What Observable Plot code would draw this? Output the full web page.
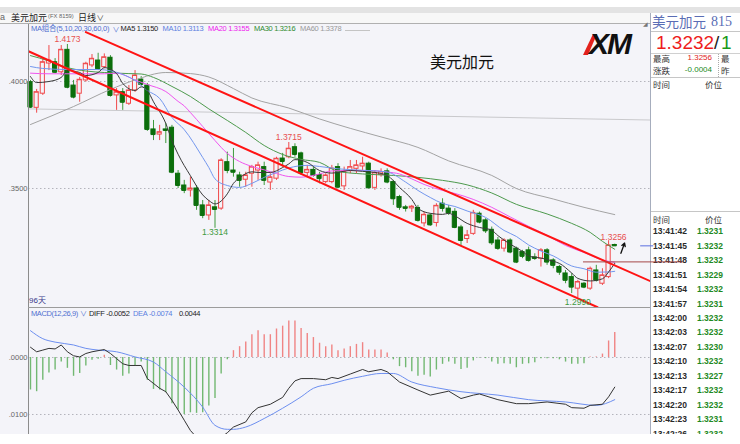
<!DOCTYPE html>
<html><head><meta charset="utf-8">
<script src="https://cdn.jsdelivr.net/npm/d3@7"></script>
<script src="https://cdn.jsdelivr.net/npm/@observablehq/plot@0.6"></script>
<style>
html,body{margin:0;padding:0;background:#fff;}
#root{position:relative;width:740px;height:444px;overflow:hidden;background:#fff;font-family:"Liberation Sans","Noto Sans CJK SC",sans-serif;}
.a{position:absolute;white-space:nowrap;line-height:1;}
.bx{position:absolute;}
#root svg{position:absolute;left:0;}
</style></head><body><div id="root"></div>
<script>
// ---------- DATA ----------
const open  = [1.3997,1.3877,1.3943,1.4084,1.4090,1.4043,1.4148,1.3981,1.3943,1.4005,1.4075,1.4098,1.4067,1.4111,1.3935,1.3950,1.3896,1.3958,1.4009,1.3981,1.3776,1.3752,1.3776,1.3784,1.3569,1.3514,1.3491,1.3500,1.3421,1.3374,1.3412,1.3406,1.3623,1.3584,1.3561,1.3541,1.3569,1.3584,1.3600,1.3528,1.3546,1.3640,1.3646,1.3693,1.3664,1.3573,1.3587,1.3563,1.3530,1.3530,1.3600,1.3510,1.3584,1.3592,1.3603,1.3616,1.3503,1.3563,1.3580,1.3530,1.3460,1.3412,1.3407,1.3409,1.3337,1.3374,1.3339,1.3429,1.3406,1.3391,1.3318,1.3264,1.3288,1.3382,1.3351,1.3307,1.3257,1.3219,1.3257,1.3219,1.3203,1.3211,1.3178,1.3172,1.3211,1.3164,1.3133,1.3103,1.3086,1.3032,1.3055,1.3032,1.3117,1.3055,1.3086,1.3236];
const high  = [1.4005,1.3963,1.4106,1.4168,1.4107,1.4168,1.4173,1.4005,1.4019,1.4090,1.4126,1.4132,1.4129,1.4121,1.3967,1.3967,1.3981,1.4051,1.4023,1.3991,1.3818,1.3795,1.3804,1.3795,1.3584,1.3538,1.3553,1.3514,1.3444,1.3444,1.3444,1.3639,1.3670,1.3687,1.3576,1.3576,1.3608,1.3623,1.3623,1.3569,1.3646,1.3664,1.3715,1.3709,1.3670,1.3608,1.3600,1.3576,1.3569,1.3608,1.3616,1.3600,1.3631,1.3631,1.3646,1.3623,1.3584,1.3592,1.3592,1.3538,1.3468,1.3421,1.3421,1.3421,1.3390,1.3382,1.3429,1.3452,1.3421,1.3406,1.3328,1.3304,1.3398,1.3390,1.3359,1.3320,1.3271,1.3265,1.3265,1.3226,1.3211,1.3226,1.3195,1.3219,1.3219,1.3172,1.3141,1.3117,1.3102,1.3071,1.3061,1.3133,1.3141,1.3125,1.3256,1.3240];
const low   = [1.3874,1.3852,1.3935,1.4051,1.4036,1.4028,1.3966,1.3919,1.3903,1.3997,1.4065,1.4051,1.4059,1.3927,1.3865,1.3865,1.3888,1.3949,1.3977,1.3767,1.3724,1.3724,1.3710,1.3569,1.3500,1.3476,1.3460,1.3398,1.3359,1.3351,1.3314,1.3398,1.3569,1.3553,1.3506,1.3506,1.3506,1.3538,1.3514,1.3491,1.3538,1.3600,1.3639,1.3646,1.3561,1.3550,1.3553,1.3522,1.3522,1.3522,1.3499,1.3491,1.3569,1.3569,1.3584,1.3499,1.3491,1.3553,1.3522,1.3421,1.3398,1.3390,1.3388,1.3343,1.3320,1.3323,1.3320,1.3390,1.3374,1.3312,1.3234,1.3243,1.3281,1.3335,1.3290,1.3234,1.3211,1.3203,1.3195,1.3149,1.3172,1.3156,1.3164,1.3133,1.3141,1.3125,1.3094,1.3055,1.3009,1.2990,1.3032,1.3024,1.3063,1.3047,1.3079,1.3229];
const close = [1.3880,1.3950,1.4090,1.4098,1.4043,1.4148,1.3973,1.3927,1.4008,1.4083,1.4106,1.4059,1.4113,1.3935,1.3950,1.3903,1.3958,1.4028,1.3986,1.3776,1.3752,1.3763,1.3771,1.3576,1.3514,1.3491,1.3500,1.3421,1.3374,1.3421,1.3402,1.3631,1.3584,1.3576,1.3538,1.3561,1.3600,1.3608,1.3538,1.3552,1.3639,1.3626,1.3686,1.3659,1.3573,1.3587,1.3561,1.3546,1.3561,1.3593,1.3506,1.3580,1.3600,1.3608,1.3616,1.3503,1.3573,1.3577,1.3530,1.3452,1.3412,1.3407,1.3415,1.3351,1.3377,1.3330,1.3419,1.3407,1.3386,1.3318,1.3257,1.3281,1.3386,1.3343,1.3302,1.3246,1.3220,1.3257,1.3203,1.3156,1.3183,1.3164,1.3173,1.3211,1.3156,1.3141,1.3109,1.3071,1.3039,1.3063,1.3039,1.3125,1.3071,1.3094,1.3234,1.3232];

const ma5Idx = [0,1,3,5,6,8,9,11,12,14,15,17,18,19,20,22,23,24,26,28,29,30,32,33,34,36,37,39,41,42,43,45,47,49,52,54,56,58,60,62,63,65,67,68,69,71,73,75,76,78,80,81,83,85,86,88,89,91,93,94,95];
const ma5Val = [1.4023,1.3995,1.4000,1.4019,1.4051,1.4042,1.4028,1.4042,1.4065,1.4037,1.3991,1.3958,1.3975,1.3958,1.3905,1.3804,1.3724,1.3660,1.3560,1.3470,1.3444,1.3428,1.3475,1.3524,1.3550,1.3578,1.3575,1.3575,1.3598,1.3615,1.3635,1.3622,1.3584,1.3572,1.3584,1.3580,1.3575,1.3561,1.3505,1.3449,1.3407,1.3384,1.3379,1.3384,1.3372,1.3337,1.3318,1.3305,1.3280,1.3240,1.3206,1.3185,1.3175,1.3160,1.3150,1.3105,1.3080,1.3068,1.3078,1.3110,1.3150];
const ma10Idx = [0,2,6,11,15,17,19,21,23,25,28,29,30,32,34,36,38,40,42,45,47,50,52,55,58,61,63,65,67,69,71,74,77,79,81,83,85,88,90,92,94,95];
const ma10Val = [1.4070,1.4061,1.4056,1.4056,1.4033,1.4005,1.3958,1.3921,1.3832,1.3775,1.3645,1.3598,1.3545,1.3514,1.3505,1.3524,1.3552,1.3575,1.3596,1.3608,1.3603,1.3592,1.3588,1.3584,1.3577,1.3530,1.3491,1.3458,1.3430,1.3416,1.3395,1.3365,1.3304,1.3276,1.3236,1.3208,1.3185,1.3138,1.3125,1.3109,1.3110,1.3113];
const ma20Idx = [0,3,9,12,14,17,19,22,24,25,26,28,30,32,34,36,38,40,42,44,47,49,52,55,58,60,62,64,67,69,72,75,78,81,84,87,90,93,95];
const ma20Val = [1.4039,1.4036,1.4036,1.4036,1.4039,1.4007,1.3986,1.3953,1.3907,1.3886,1.3855,1.3790,1.3724,1.3664,1.3626,1.3603,1.3587,1.3570,1.3556,1.3553,1.3568,1.3582,1.3584,1.3584,1.3577,1.3568,1.3545,1.3519,1.3491,1.3477,1.3449,1.3412,1.3367,1.3323,1.3281,1.3234,1.3201,1.3166,1.3155];
const ma30Idx = [0,3,6,9,12,16,18,20,23,26,29,32,35,38,41,44,47,50,54,59,63,67,71,75,79,84,88,91,93,95];
const ma30Val = [1.4121,1.4096,1.4065,1.4049,1.4042,1.4037,1.4035,1.4019,1.3977,1.3930,1.3872,1.3818,1.3762,1.3701,1.3659,1.3636,1.3622,1.3580,1.3568,1.3561,1.3552,1.3538,1.3517,1.3479,1.3426,1.3381,1.3337,1.3295,1.3253,1.3216];
const ma60Idx = [0,7,13,17,22,26,29,33,36,42,47,52,57,63,68,75,79,85,90,95];
const ma60Val = [1.3799,1.3883,1.3963,1.4007,1.4042,1.4037,1.4021,1.3967,1.3923,1.3876,1.3825,1.3781,1.3741,1.3692,1.3629,1.3561,1.3500,1.3451,1.3412,1.3378];

// drawn lines: [index, price] end points
const channelUpper = [[9, 1.4231], [100.8, 1.3067]];
const channelLower = [[-0.33, 1.41415], [92.2, 1.2945]];
const refLine      = [[-0.33, 1.3872], [100.8, 1.3820]];
const markLine     = [[89.9, 1.3157], [106.0, 1.3157]];
const lastPriceLine= [[99.2, 1.3232], [101.2, 1.3232]];
const arrowPts     = [[96.0, 1.3197], [96.6, 1.3245]];

const highLabelIdx = [6, 42];
const highLabelVal = [1.4173, 1.3715];
const lastHighIdx = 94, lastHighVal = 1.3256;
const lowLabelIdx = [30, 89];
const lowLabelVal = [1.3314, 1.2990];

const priceTicks = [1.35, 1.40];
const priceTickLabels = [".3500", ".4000"];
const macdTicks = [0, -0.01];
const macdTickLabels = [".0000", ".0100"];

const macdHist = [-0.0057,-0.0060,-0.0040,-0.0027,-0.0022,-0.0008,-0.0019,-0.0033,-0.0028,-0.0015,
-0.0005,-0.0003,0.0004,-0.0014,-0.0022,-0.0033,-0.0029,-0.0014,-0.0008,-0.0040,
-0.0056,-0.0057,-0.0062,-0.0081,-0.0092,-0.0100,-0.0097,-0.0098,-0.0097,-0.0085,
-0.0072,-0.0029,-0.0004,0.0012,0.0019,0.0027,0.0040,0.0047,0.0040,0.0040,
0.0050,0.0055,0.0064,0.0064,0.0051,0.0042,0.0035,0.0025,0.0019,0.0022,
0.0012,0.0015,0.0019,0.0023,0.0026,0.0013,0.0013,0.0013,0.0008,-0.0004,
-0.0016,-0.0018,-0.0025,-0.0033,-0.0031,-0.0034,-0.0022,-0.0012,-0.0008,-0.0012,
-0.0021,-0.0019,-0.0006,-0.0001,-0.0002,-0.0008,-0.0012,-0.0011,-0.0012,-0.0018,
-0.0012,-0.0011,-0.0009,-0.0002,-0.0002,-0.0002,-0.0004,-0.0008,-0.0012,-0.0012,
-0.0011,0.0001,0.0001,0.0006,0.0029,0.0044];
const diffIdx = [0,1,2,3,4,5,6,7,8,9,10,12,13,14,15,16,17,18,19,21,22,23,24,25,26,27,28,29,30,31,32,33,35,36,37,39,41,42,43,44,46,48,49,50,52,54,55,57,58,60,63,65,68,70,72,73,76,79,81,84,87,88,90,91,93,94,95];
const diffVal = [0.0018,0.0010,0.0013,0.0016,0.0015,0.0022,0.0010,0.0003,0.0001,0.0007,0.0010,0.0014,0.0007,-0.0002,-0.0011,-0.0014,-0.0014,-0.0014,-0.0037,-0.0054,-0.0060,-0.0075,-0.0092,-0.0110,-0.0128,-0.0140,-0.0145,-0.0147,-0.0145,-0.0140,-0.0132,-0.0122,-0.0113,-0.0097,-0.0088,-0.0082,-0.0070,-0.0054,-0.0041,-0.0037,-0.0037,-0.0039,-0.0035,-0.0037,-0.0029,-0.0021,-0.0025,-0.0021,-0.0025,-0.0043,-0.0057,-0.0066,-0.0059,-0.0072,-0.0066,-0.0064,-0.0074,-0.0081,-0.0081,-0.0078,-0.0082,-0.0088,-0.0089,-0.0084,-0.0082,-0.0069,-0.0052];
const deaIdx = [0,2,4,7,9,11,14,17,20,22,25,28,30,32,33,35,38,41,44,46,49,51,54,57,59,62,66,70,76,81,87,92,95];
const deaVal = [0.0047,0.0033,0.0027,0.0022,0.0016,0.0013,0.0010,0.0001,-0.0008,-0.0025,-0.0052,-0.0087,-0.0119,-0.0126,-0.0126,-0.0122,-0.0107,-0.0089,-0.0069,-0.0054,-0.0046,-0.0040,-0.0033,-0.0028,-0.0028,-0.0043,-0.0053,-0.0060,-0.0066,-0.0074,-0.0078,-0.0084,-0.0074];

const tickTimes  = ["13:41:42","13:41:45","13:41:48","13:41:51","13:41:54","13:41:57","13:42:00","13:42:03","13:42:07","13:42:10","13:42:13","13:42:17","13:42:20","13:42:23","13:42:26"];
const tickPrices = ["1.3231","1.3232","1.3232","1.3229","1.3232","1.3231","1.3232","1.3232","1.3230","1.3232","1.3227","1.3232","1.3232","1.3231","1.3232"];

// ---------- PAGE ----------
const root = document.getElementById("root");
function bx(x,y,w,h,bg,z=0,extra=""){const e=document.createElement("div");e.className="bx";e.style.cssText=`left:${x}px;top:${y}px;width:${w}px;height:${h}px;background:${bg};z-index:${z};${extra}`;root.appendChild(e);return e;}
function tx(x,yc,s,o={}){const e=document.createElement("div");e.className="a";const sz=o.size||8;e.textContent=s;
  e.style.fontSize=sz+"px";e.style.color=o.color||"#222";if(o.weight)e.style.fontWeight=o.weight;if(o.family)e.style.fontFamily=o.family;
  if(o.ls!=null)e.style.letterSpacing=o.ls+"px";e.style.top=(yc-sz*0.52)+"px";
  if(o.anchor==="end")e.style.right=(740-x)+"px";else e.style.left=x+"px";e.style.zIndex=o.z??5;root.appendChild(e);return e;}
const CJK='"Noto Sans CJK SC",sans-serif';

// backgrounds
bx(0,7,740,6,"#e3e3e3");
bx(0,13,650,10,"#f7f7f7");
bx(0,23,650,1,"#b0b0b0");
const BG="#f4f4f9";
bx(0,24,650,410,BG);
bx(650,13,1,421,"#a6adbd",1);
// right panel lines
bx(651,31,89,1,"#c6c6c6",1); bx(651,53,89,1,"#d0d0d0",1); bx(651,77,89,1,"#c6c6c6",1); bx(651,211,89,1,"#c6c6c6",1);
bx(718,54,0,23,"transparent",1,"border-left:1px dotted #aaa;");

// title bar
tx(0,17.5,"a",{size:9,color:"#666"});
tx(11,17.5,"美元加元",{size:9,family:CJK,color:"#222"});
tx(48,17.5,"(FX 8159)",{size:5.8,color:"#666"});
tx(78,17.5,"日线",{size:9,family:CJK,color:"#222"});
tx(96.5,18,"∨",{size:7.5,family:CJK,color:"#333"});

// MA header
tx(31,29.3,"MA组合(5,10,20,30,60,0)",{size:7.5,color:"#4f6fd0",ls:-0.25});
tx(112.5,29.5,"∨",{size:7,color:"#4f6fd0",family:CJK});
tx(120.5,29.3,"MA5 1.3150",{size:7.5,color:"#222",ls:-0.3});
tx(162.5,29.3,"MA10 1.3113",{size:7.5,color:"#5b7fe0",ls:-0.3});
tx(208,29.3,"MA20 1.3155",{size:7.5,color:"#ee22ee",ls:-0.3});
tx(254,29.3,"MA30 1.3216",{size:7.5,color:"#2e8b2e",ls:-0.3});
tx(300,29.3,"MA60 1.3378",{size:7.5,color:"#999",ls:-0.3});
bx(345,30,25,1,"#c4c4c4",5);

// MACD header
tx(31,313.5,"MACD(12,26,9)",{size:7.5,color:"#5070d0",ls:-0.4});
tx(80,313.8,"∨",{size:7,color:"#5070d0",family:CJK});
tx(89,313.5,"DIFF -0.0052",{size:7.5,color:"#222",ls:-0.3});
tx(133,313.5,"DEA -0.0074",{size:7.5,color:"#5b7fe0",ls:-0.3});
tx(179,313.5,"0.0044",{size:7.5,color:"#222",ls:-0.3});
tx(29,301.5,"96天",{size:8,color:"#3a3a8a",family:'"Liberation Sans","Noto Sans CJK SC"'});

// big label and logo
tx(430,61,"美元加元",{size:16,family:CJK,color:"#111"});
const logo=document.createElement("div");logo.style.cssText="position:absolute;left:581px;top:28px;z-index:5;";
logo.innerHTML='<svg width="80" height="32" style="position:static;overflow:visible"><polygon points="2,27 12,6 16,6 7,27" fill="#e3211c"/><text x="8" y="26" font-family="Liberation Sans" font-weight="700" font-style="italic" font-size="30" fill="#111" letter-spacing="-2">XM</text></svg>';
root.appendChild(logo);

// right panel text
tx(643,24.5,"◢",{size:6,color:"#777",family:"DejaVu Sans"});
tx(652,22,"美元加元",{size:13.5,family:CJK,color:"#5a6db5",z:1});
tx(711,22,"815",{size:14,color:"#5a6db5",family:"Liberation Serif",z:1});
tx(656,43,"1.3232",{size:19,color:"#ee1c1c",z:1});
tx(714,43,"/",{size:19,color:"#222",z:1});
tx(721,43,"1",{size:19,color:"#1a9a1a",z:1});
tx(653,58.5,"最高",{size:8.5,family:CJK,color:"#333",z:1});
tx(712,58.5,"1.3256",{size:8,color:"#e01c1c",anchor:"end",z:1});
tx(721,58.5,"最",{size:8.5,family:CJK,color:"#333",z:1});
tx(653,70.5,"涨跌",{size:8.5,family:CJK,color:"#333",z:1});
tx(712,70.5,"-0.0004",{size:8,color:"#1a8a1a",anchor:"end",z:1});
tx(721,70.5,"昨",{size:8.5,family:CJK,color:"#333",z:1});
tx(653,84.5,"时间",{size:8.5,family:CJK,color:"#333",z:1});
tx(722,84.5,"价位",{size:8.5,family:CJK,color:"#333",anchor:"end",z:1});
tx(653,219,"时间",{size:8.5,family:CJK,color:"#333",z:1});
tx(722,219,"价位",{size:8.5,family:CJK,color:"#333",anchor:"end",z:1});
const clipBox=bx(651,224,89,210,"transparent",1,"overflow:hidden;");
tickTimes.forEach((t,k)=>{
  const yc=231.7+14.45*k-224;
  const a=document.createElement("div");a.className="a";a.textContent=t;a.style.cssText+=`left:2px;top:${yc-4.4}px;font-size:8.5px;font-weight:bold;color:#2a2a2a;`;clipBox.appendChild(a);
  const b=document.createElement("div");b.className="a";b.textContent=tickPrices[k];b.style.cssText+=`right:17px;top:${yc-4.4}px;font-size:8.5px;font-weight:bold;color:#1f8a1f;`;clipBox.appendChild(b);
});

// ---------- PLOTS ----------
const XD=[-0.3252,100.813];
const RED="#f0484a", GREEN="#0b6e0b", GWICK="#3d9a3d";
const candles=open.map((o,i)=>({i,o,h:high[i],l:low[i],c:close[i],up:close[i]>=o}));
const pts=(I,V)=>I.map((i,k)=>({i,v:V[k]}));
const seg=a=>a.map(([i,v])=>({i,v}));
const fmt=d3.format(".4f");

const main=Plot.plot({
  width:740,height:284,marginLeft:28,marginRight:90,marginTop:0,marginBottom:0,
  x:{domain:XD,axis:null},y:{domain:[1.294393,1.427103],axis:null},
  style:{background:"transparent",overflow:"hidden",fontFamily:"Liberation Sans, sans-serif"},
  marks:[
    Plot.ruleY(priceTicks,{y:d=>d,stroke:"#b4b4bc",strokeDasharray:"1.5,2.5"}),
    Plot.line(seg(refLine),{x:"i",y:"v",stroke:"#c9c9cc",strokeWidth:1,clip:true}),
    Plot.ruleX(candles,{x:"i",y1:"l",y2:"h",stroke:d=>d.up?RED:GWICK,strokeWidth:1}),
    Plot.rect(candles,{x1:d=>d.i-0.34,x2:d=>d.i+0.34,y1:"o",y2:"c",fill:d=>d.up?BG:GREEN,stroke:d=>d.up?RED:GREEN,strokeWidth:1}),
    Plot.ruleY(candles,{y:"c",x1:d=>d.i-0.34,x2:d=>d.i+0.34,stroke:d=>d.up?RED:GREEN}),
    Plot.line(pts(ma60Idx,ma60Val),{x:"i",y:"v",stroke:"#a3a3a3",strokeWidth:1,curve:"monotone-x",clip:true}),
    Plot.line(pts(ma30Idx,ma30Val),{x:"i",y:"v",stroke:"#4d9a4d",strokeWidth:1,curve:"monotone-x",clip:true}),
    Plot.line(pts(ma20Idx,ma20Val),{x:"i",y:"v",stroke:"#f055f0",strokeWidth:1,curve:"monotone-x",clip:true}),
    Plot.line(pts(ma10Idx,ma10Val),{x:"i",y:"v",stroke:"#7397ee",strokeWidth:1,curve:"monotone-x",clip:true}),
    Plot.line(pts(ma5Idx,ma5Val),{x:"i",y:"v",stroke:"#3a3a3a",strokeWidth:1,curve:"monotone-x",clip:true}),
    Plot.line(seg(channelUpper),{x:"i",y:"v",stroke:"#ff1414",strokeWidth:2,clip:true}),
    Plot.line(seg(channelLower),{x:"i",y:"v",stroke:"#ff1414",strokeWidth:2,clip:true}),
    Plot.line(seg(markLine),{x:"i",y:"v",stroke:"#a54848",strokeWidth:1}),
    Plot.line(seg(lastPriceLine),{x:"i",y:"v",stroke:"#5a6fe0",strokeWidth:1}),
    Plot.arrow([arrowPts],{x1:d=>d[0][0],y1:d=>d[0][1],x2:d=>d[1][0],y2:d=>d[1][1],stroke:"#111",strokeWidth:1.3,headLength:5}),
    Plot.text(highLabelIdx,{x:d=>d,y:(d,k)=>highLabelVal[k],text:(d,k)=>fmt(highLabelVal[k]),lineAnchor:"bottom",dy:-2,fill:"#e85050",fontSize:8.5}),
    Plot.text([lastHighIdx],{x:d=>d,y:()=>lastHighVal,text:()=>fmt(lastHighVal),lineAnchor:"bottom",dy:-1,dx:5,fill:"#e85050",fontSize:8.5}),
    Plot.text(lowLabelIdx,{x:d=>d,y:(d,k)=>lowLabelVal[k],text:(d,k)=>fmt(lowLabelVal[k]),lineAnchor:"top",dy:1,fill:"#3f9a3f",fontSize:8.5}),
    Plot.text(priceTicks,{x:()=>XD[0],y:d=>d,text:(d,k)=>priceTickLabels[k],textAnchor:"end",dx:-1,fill:"#666",fontSize:7.5})
  ]
});
main.style.top="23px";main.style.zIndex=2;root.appendChild(main);

const macd=Plot.plot({
  width:740,height:127,marginLeft:28,marginRight:90,marginTop:0,marginBottom:0,
  x:{domain:XD,axis:null},y:{domain:[-0.013509,0.008772],axis:null},
  style:{background:"transparent",overflow:"hidden",fontFamily:"Liberation Sans, sans-serif"},
  marks:[
    Plot.ruleY(macdTicks,{y:d=>d,stroke:"#b4b4bc",strokeDasharray:"1.5,2.5"}),
    Plot.ruleX(macdHist,{x:(d,i)=>i,y1:0,y2:d=>d,stroke:d=>d>=0?"#f08484":"#72b872",strokeWidth:1.4}),
    Plot.line(pts(deaIdx,deaVal),{x:"i",y:"v",stroke:"#6d8ff0",strokeWidth:1,curve:"monotone-x",clip:true}),
    Plot.line(pts(diffIdx,diffVal),{x:"i",y:"v",stroke:"#333",strokeWidth:1,clip:true}),
    Plot.text(macdTicks,{x:()=>XD[0],y:d=>d,text:(d,k)=>macdTickLabels[k],textAnchor:"end",dx:-1,fill:"#666",fontSize:7.5})
  ]
});
macd.style.top="307px";macd.style.zIndex=2;root.appendChild(macd);

// frames on top
bx(28,24,1,410,"#8c8c8c",3);
bx(28,307,622,1,"#9c9c9c",3);
</script></body></html>
